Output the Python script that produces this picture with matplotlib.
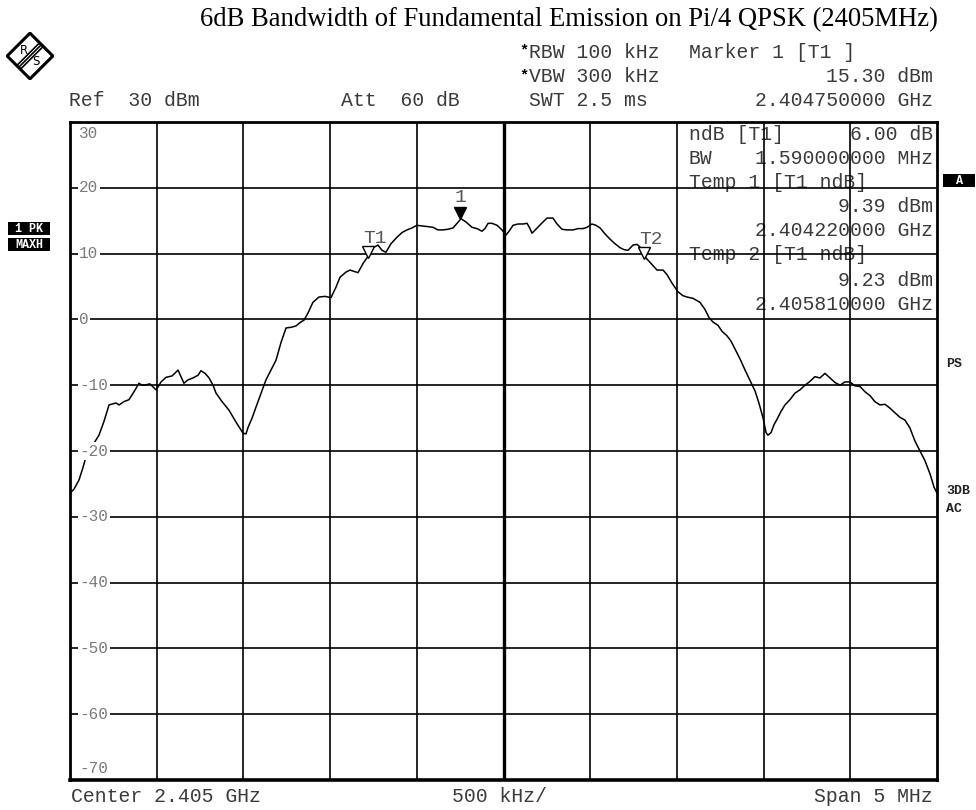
import matplotlib
matplotlib.use("Agg")
import matplotlib.pyplot as plt
import numpy as np
from matplotlib.patches import Rectangle, Polygon
from matplotlib.transforms import offset_copy

# trace: offset from 2.405 GHz (MHz) and level (dBm)
freq_mhz = [-2.500, -2.477, -2.448, -2.425, -2.408, -2.373, -2.333, -2.304, -2.275, -2.235,
            -2.217, -2.189, -2.160, -2.131, -2.102, -2.091, -2.073, -2.039, -2.004, -1.993,
            -1.975, -1.946, -1.912, -1.877, -1.860, -1.843, -1.820, -1.791, -1.762, -1.745,
            -1.721, -1.698, -1.675, -1.658, -1.623, -1.583, -1.543, -1.502, -1.485, -1.473,
            -1.450, -1.427, -1.399, -1.370, -1.341, -1.312, -1.283, -1.254, -1.225, -1.197,
            -1.174, -1.150, -1.127, -1.099, -1.064, -1.029, -0.995, -0.966, -0.943, -0.908,
            -0.885, -0.862, -0.839, -0.810, -0.781, -0.758, -0.724, -0.701, -0.678, -0.649,
            -0.614, -0.585, -0.557, -0.528, -0.499, -0.470, -0.435, -0.407, -0.378, -0.349,
            -0.320, -0.291, -0.268, -0.245, -0.216, -0.182, -0.153, -0.124, -0.107, -0.089,
            -0.066, -0.037, -0.009, 0.014, 0.032, 0.055, 0.084, 0.113, 0.136, 0.153,
            0.164, 0.187, 0.216, 0.251, 0.285, 0.309, 0.337, 0.366, 0.401, 0.430,
            0.459, 0.482, 0.510, 0.533, 0.557, 0.585, 0.614, 0.643, 0.672, 0.695,
            0.718, 0.747, 0.770, 0.787, 0.816, 0.851, 0.885, 0.920, 0.943, 0.972,
            1.006, 1.035, 1.058, 1.093, 1.133, 1.162, 1.185, 1.208, 1.237, 1.260,
            1.289, 1.312, 1.335, 1.364, 1.393, 1.422, 1.451, 1.474, 1.497, 1.514,
            1.525, 1.543, 1.560, 1.577, 1.600, 1.623, 1.652, 1.681, 1.710, 1.739,
            1.768, 1.796, 1.825, 1.854, 1.883, 1.912, 1.941, 1.969, 1.998, 2.027,
            2.056, 2.085, 2.114, 2.142, 2.171, 2.200, 2.229, 2.258, 2.287, 2.315,
            2.344, 2.373, 2.402, 2.431, 2.460, 2.483, 2.500]
level_dbm = [-26.4, -25.8, -24.4, -22.5, -20.9, -19.3, -17.6, -15.5, -13.0, -12.7,
             -13.0, -12.5, -12.2, -11.0, -9.7, -9.9, -10.0, -9.8, -10.7, -10.3,
             -9.5, -8.8, -8.6, -7.7, -8.7, -9.7, -9.2, -8.9, -8.5, -7.8,
             -8.2, -8.9, -10.0, -11.2, -12.5, -13.8, -15.6, -17.3, -17.4, -16.4,
             -15.0, -13.3, -11.3, -9.2, -7.7, -6.2, -3.5, -1.3, -1.2, -1.0,
             -0.5, -0.1, 1.0, 2.6, 3.4, 3.5, 3.3, 4.9, 6.4, 7.2,
             7.5, 7.3, 7.1, 8.5, 9.6, 10.8, 11.3, 10.5, 10.2, 11.5,
             12.5, 13.2, 13.6, 13.9, 14.3, 14.2, 14.1, 14.0, 13.6, 13.6,
             13.7, 13.9, 14.6, 15.3, 14.8, 14.0, 13.8, 13.4, 13.8, 14.6,
             14.6, 14.3, 13.6, 12.8, 13.4, 14.3, 14.5, 14.5, 14.6, 13.8,
             13.1, 13.7, 14.5, 15.4, 15.4, 14.5, 13.7, 13.6, 13.6, 13.8,
             13.8, 14.0, 14.5, 14.3, 13.9, 13.0, 12.2, 11.5, 10.9, 10.6,
             10.5, 11.3, 11.4, 11.0, 9.5, 8.5, 7.5, 7.5, 6.8, 5.5,
             4.2, 3.6, 3.4, 3.2, 2.6, 1.5, 0.3, -0.4, -0.9, -1.8,
             -2.5, -3.3, -4.5, -6.0, -7.7, -9.3, -10.9, -12.8, -15.0, -17.2,
             -17.6, -17.2, -16.0, -15.2, -14.0, -13.0, -12.2, -11.2, -10.7, -10.0,
             -9.4, -8.7, -8.9, -8.2, -8.9, -9.6, -10.0, -9.5, -9.5, -10.1,
             -10.2, -11.0, -11.6, -12.5, -13.0, -12.9, -13.5, -14.2, -14.9, -15.3,
             -16.5, -18.5, -20.0, -21.5, -23.5, -25.5, -26.4]

# markers: (name, offset MHz, level dBm, filled)
markers = [("1", -0.250, 15.30, True), ("T1", -0.780, 9.39, False), ("T2", 0.810, 9.23, False)]

y_ticks = [30, 20, 10, 0, -10, -20, -30, -40, -50, -60, -70]

W, H = 976, 810
MONO = "Liberation Mono"
TXT = "#3a3a3a"

fig = plt.figure(figsize=(W / 100, H / 100), dpi=100)
fig.patch.set_facecolor("white")


def fx(x):
    return x / W


def fy(y):
    return 1 - y / H


ax = fig.add_axes([fx(70), 30 / H, 867 / W, 658 / H])
ax.set_xlim(-2.5, 2.5)
ax.set_ylim(-70, 30)
ax.set_xticks([])
ax.set_yticks([])
for s in ax.spines.values():
    s.set_linewidth(2.0)
    s.set_zorder(6)
ax.spines["bottom"].set_linewidth(2.6)

# graticule
for xv in np.arange(-2.0, 2.01, 0.5):
    ax.axvline(xv, color="black", lw=2.4 if abs(xv) < 1e-9 else 1.2, zorder=2)
for yv in y_ticks[1:-1]:
    ax.axhline(yv, color="black", lw=1.2, zorder=2)

ax.plot(freq_mhz, level_dbm, color="black", lw=1.1, zorder=3)

# level labels on the graticule
for yv in y_ticks:
    ypos = yv
    if yv == 30:
        ypos = 28.2
    elif yv == -70:
        ypos = -68.2
    ax.text(0.0105, (ypos + 70) / 100, str(yv), transform=ax.transAxes, fontsize=11.5,
            family=MONO, color="#7a7a7a", ha="left", va="center", zorder=5,
            bbox=dict(facecolor="white", edgecolor="none", pad=1.2))

# markers
for name, f, lv, filled in markers:
    tr = offset_copy(ax.transData, fig=fig, y=4.0, units="points")
    ax.plot([f], [lv], marker="v", ms=8, transform=tr, color="black",
            mfc="black" if filled else "white", mec="black", mew=1.0, zorder=4)
    dx = 0 if filled else 5
    ax.annotate(name, (f, lv), xytext=(dx, 15 if filled else 13.5), textcoords="offset points",
                fontsize=14, family=MONO, color="#555555", ha="center", va="center", zorder=4)

# marker readout inside the graticule (graticule lines run through it)
rows = [(135, "ndB [T1]", "6.00 dB"),
        (159, "BW", "1.590000000 MHz"),
        (183, "Temp 1 [T1 ndB]", ""),
        (207, "", "9.39 dBm"),
        (231, "", "2.404220000 GHz"),
        (255, "Temp 2 [T1 ndB]", ""),
        (280, "", "9.23 dBm"),
        (304, "", "2.405810000 GHz")]
for yy, left, right in rows:
    if left:
        ax.text(fx(689), fy(yy), left, transform=fig.transFigure, fontsize=14.2, family=MONO,
                color=TXT, ha="left", va="center", zorder=1)
    if right:
        ax.text(fx(933), fy(yy), right, transform=fig.transFigure, fontsize=14.2, family=MONO,
                color=TXT, ha="right", va="center", zorder=1)

# header
fig.text(fx(569), fy(20), "6dB Bandwidth of Fundamental Emission on Pi/4 QPSK (2405MHz)",
         fontsize=19.2, family="Liberation Serif", color="black", ha="center", va="center")
hdr = dict(fontsize=14.2, family=MONO, color=TXT, va="center")
fig.text(fx(524), fy(50), "*", fontsize=11, family=MONO, weight="bold", color="black",
         ha="center", va="center")
fig.text(fx(524), fy(75), "*", fontsize=11, family=MONO, weight="bold", color="black",
         ha="center", va="center")
fig.text(fx(529), fy(52), "RBW 100 kHz", ha="left", **hdr)
fig.text(fx(529), fy(77), "VBW 300 kHz", ha="left", **hdr)
fig.text(fx(529), fy(101), "SWT 2.5 ms", ha="left", **hdr)
fig.text(fx(689), fy(52), "Marker 1 [T1 ]", ha="left", **hdr)
fig.text(fx(933), fy(77), "15.30 dBm", ha="right", **hdr)
fig.text(fx(933), fy(101), "2.404750000 GHz", ha="right", **hdr)
fig.text(fx(69), fy(101), "Ref  30 dBm", ha="left", **hdr)
fig.text(fx(341), fy(101), "Att  60 dB", ha="left", **hdr)

# footer
fig.text(fx(71), fy(797), "Center 2.405 GHz", ha="left", **hdr)
fig.text(fx(452), fy(797), "500 kHz/", ha="left", **hdr)
fig.text(fx(933), fy(797), "Span 5 MHz", ha="right", **hdr)

# black status boxes
for x0, y0, w, h, s in [(8, 222, 42, 13, "1 PK"), (8, 238, 42, 13, "MAXH"), (943, 174, 32, 13, "A")]:
    fig.patches.append(Rectangle((fx(x0), fy(y0 + h)), w / W, h / H, transform=fig.transFigure,
                                 facecolor="black", edgecolor="none"))
    fig.text(fx(x0 + w / 2), fy(y0 + h / 2 + 0.5), s, fontsize=8.5, family=MONO, weight="bold",
             color="white", ha="center", va="center")

side = dict(fontsize=9.5, family=MONO, weight="bold", color="#222222", ha="left", va="center")
fig.text(fx(946), fy(364), "PS", **side)
fig.text(fx(946), fy(491), "3DB", **side)
fig.text(fx(946), fy(509), "AC", **side)

# R&S logo
lg = fig.add_axes([fx(6), fy(80), 48 / W, 48 / H])
lg.set_xlim(-1.05, 1.05)
lg.set_ylim(-1.05, 1.05)
lg.axis("off")
lg.add_patch(Polygon([(0, 1), (1, 0), (0, -1), (-1, 0)], closed=True, facecolor="white",
                     edgecolor="black", lw=2.2))
for off in (-0.08, 0.0, 0.08):
    lg.plot([0.5 + off, -0.5 + off], [0.5 - off, -0.5 - off], color="black", lw=1.2)
lg.text(-0.28, 0.22, "R", fontsize=8.5, family="DejaVu Sans", ha="center", va="center")
lg.text(0.28, -0.24, "S", fontsize=8.5, family="DejaVu Sans", ha="center", va="center")

fig.savefig("out.png", dpi=100)
